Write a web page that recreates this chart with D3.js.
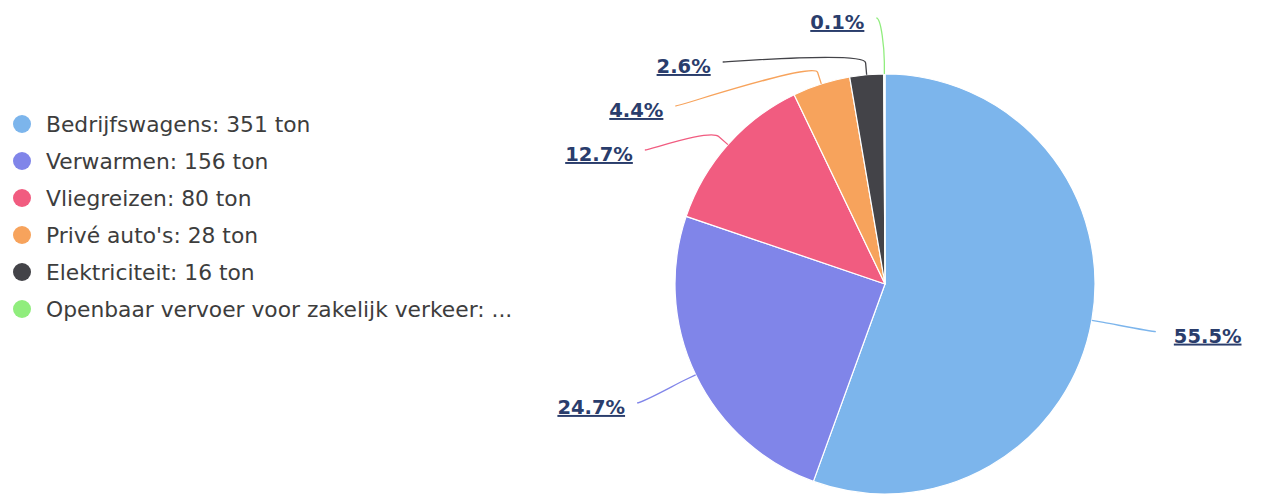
<!DOCTYPE html>
<html>
<head>
<meta charset="utf-8">
<script src="https://cdn.jsdelivr.net/npm/d3@7"></script>
<style>
  html, body { margin: 0; padding: 0; background: #ffffff; }
  svg { display: block; }
</style>
</head>
<body>
<svg id="chart" width="1263" height="495"></svg>
<script>
// CO2 emissions per source (tonnes)
const categories = [
  "Bedrijfswagens",
  "Verwarmen",
  "Vliegreizen",
  "Privé auto's",
  "Elektriciteit",
  "Openbaar vervoer voor zakelijk verkeer"
];
const tons = [351, 156, 80, 28, 16.4, 0.6];
const colors = ["#7cb5ec", "#8085e9", "#f15c80", "#f7a35c", "#434348", "#90ed7d"];

const W = 1263, H = 495;
const cx = 885, cy = 284, radius = 210;
const labelRadius = radius + 65;   // ring the connector ends sit on
const breakRadius = radius + 12;   // where the leader line bends
const labelTop = 18;               // highest allowed label position
const labelGap = 44;               // minimum vertical spacing of labels

const svg = d3.select("#chart");
const data = categories.map((name, i) => ({ name, value: tons[i], color: colors[i] }));
const total = d3.sum(tons);
const pctFmt = v => d3.format(".1f")(v / total * 100) + "%";

// ---- Pie ----
const pie = d3.pie().sort(null).value(d => d.value).startAngle(0).endAngle(2 * Math.PI);
const arcs = pie(data);
const arc = d3.arc().innerRadius(0).outerRadius(radius);

const g = svg.append("g").attr("transform", `translate(${cx},${cy})`);
g.selectAll("path.slice")
  .data(arcs)
  .join("path")
  .attr("class", "slice")
  .attr("d", arc)
  .attr("fill", d => d.data.color)
  .attr("stroke", "#ffffff")
  .attr("stroke-width", 1.2)
  .attr("stroke-linejoin", "round");

// ---- Data label layout ----
const polar = (a, r) => ({ x: cx + r * Math.sin(a), y: cy - r * Math.cos(a) });
const labels = arcs.map(a => {
  const mid = (a.startAngle + a.endAngle) / 2;
  const natural = polar(mid, labelRadius);
  return {
    arc: a,
    mid,
    left: Math.sin(mid) < 0,
    naturalY: natural.y,
    touch: polar(mid, radius),
    brk: polar(mid, breakRadius)
  };
});

// push labels apart per side, top to bottom
[true, false].forEach(side => {
  const group = labels.filter(l => l.left === side).sort((a, b) => a.naturalY - b.naturalY);
  let prev = -Infinity;
  group.forEach(l => {
    let y = Math.max(l.naturalY, labelTop, prev + labelGap);
    l.pinned = (y === labelTop && l.naturalY < labelTop);
    l.y = y;
    prev = y;
  });
});

labels.forEach(l => {
  const dy = l.y - cy;
  const dx = Math.sqrt(Math.max(0, labelRadius * labelRadius - dy * dy));
  l.x = cx + (l.left ? -dx : dx);
  // a label pinned to the top edge hangs right beside its leader line
  if (l.pinned) l.x = l.touch.x + (l.left ? -8 : 8);
});

// leader lines: soft curve from label into the break point, then straight to the slice
const lines = svg.append("g");
lines.selectAll("path")
  .data(labels)
  .join("path")
  .attr("fill", "none")
  .attr("stroke", d => d.arc.data.color)
  .attr("stroke-width", 1.3)
  .attr("d", d => {
    const dir = d.left ? 5 : -5;
    const c2x = 2 * d.brk.x - d.touch.x, c2y = 2 * d.brk.y - d.touch.y;
    return `M${d.x},${d.y} C${d.x + dir},${d.y} ${c2x},${c2y} ${d.brk.x},${d.brk.y} L${d.touch.x},${d.touch.y}`;
  });

svg.append("g").selectAll("text")
  .data(labels)
  .join("text")
  .attr("x", d => d.left ? d.x - 12 : d.x + 18)
  .attr("y", d => d.y + 11)
  .attr("text-anchor", d => d.left ? "end" : "start")
  .attr("font-family", "DejaVu Sans, sans-serif")
  .attr("font-size", 19.5)
  .attr("font-weight", "bold")
  .attr("fill", "#2a3d6c")
  .style("text-decoration", "underline")
  .text(d => pctFmt(d.arc.data.value));

// ---- Legend ----
const legendX = 22, legendY = 124, legendStep = 37, legendMaxWidth = 472;
const legend = svg.append("g");
const items = legend.selectAll("g")
  .data(data)
  .join("g")
  .attr("transform", (d, i) => `translate(${legendX},${legendY + i * legendStep})`);

items.append("circle")
  .attr("r", 9)
  .attr("fill", d => d.color);

items.append("text")
  .attr("x", 24)
  .attr("y", 7.5)
  .attr("font-family", "DejaVu Sans, sans-serif")
  .attr("font-size", 21.8)
  .attr("fill", "#3d3d3d")
  .each(function (d) {
    const full = `${d.name}: ${d3.format(".0f")(d.value)} ton`;
    const t = d3.select(this).text(full);
    if (this.getComputedTextLength() > legendMaxWidth) {
      let s = full;
      while (s.length && this.getComputedTextLength() > legendMaxWidth) {
        s = s.slice(0, -1);
        t.text(s + "...");
      }
    }
  });
</script>
</body>
</html>
